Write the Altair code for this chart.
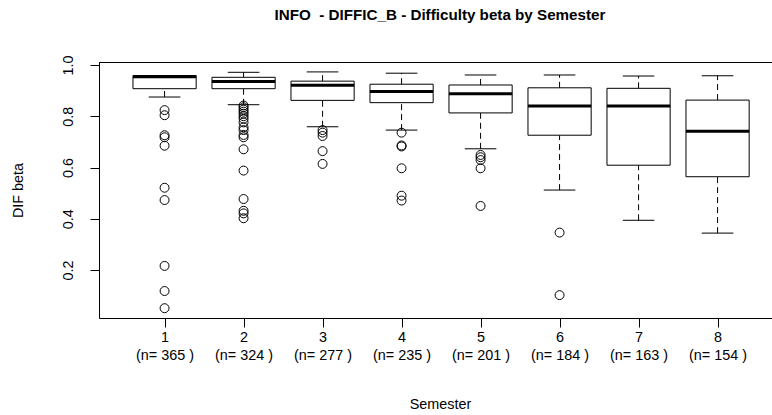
import altair as alt
import pandas as pd

# Box summary per semester
semesters = [1, 2, 3, 4, 5, 6, 7, 8]
counts = [365, 324, 277, 235, 201, 184, 163, 154]
whisker_low = [0.875, 0.845, 0.759, 0.746, 0.673, 0.512, 0.394, 0.344]
q1 = [0.9075, 0.9075, 0.862, 0.853, 0.813, 0.726, 0.609, 0.564]
median = [0.954, 0.936, 0.921, 0.897, 0.888, 0.840, 0.840, 0.741]
q3 = [0.959, 0.952, 0.937, 0.925, 0.922, 0.911, 0.909, 0.863]
whisker_high = [0.959, 0.9715, 0.973, 0.968, 0.961, 0.961, 0.957, 0.958]

# Outlying items per semester
outliers_s1 = [0.824, 0.804, 0.726, 0.718, 0.685, 0.521, 0.473, 0.216, 0.118, 0.051]
outliers_s2 = [0.842, 0.835, 0.826, 0.818, 0.810, 0.800, 0.790, 0.776, 0.757,
               0.746, 0.727, 0.718, 0.671, 0.588, 0.477, 0.431, 0.421, 0.402]
outliers_s3 = [0.746, 0.736, 0.723, 0.664, 0.614]
outliers_s4 = [0.736, 0.686, 0.682, 0.597, 0.490, 0.471]
outliers_s5 = [0.649, 0.640, 0.629, 0.597, 0.450]
outliers_s6 = [0.346, 0.102]
outliers_s7 = []
outliers_s8 = []

y_ticks = [0.2, 0.4, 0.6, 0.8, 1.0]

boxes = pd.DataFrame({
    "semester": semesters, "lo": whisker_low, "q1": q1,
    "med": median, "q3": q3, "hi": whisker_high,
})
out_lists = [outliers_s1, outliers_s2, outliers_s3, outliers_s4,
             outliers_s5, outliers_s6, outliers_s7, outliers_s8]
outs = pd.DataFrame(
    [(s, v) for s, vals in zip(semesters, out_lists) for v in vals],
    columns=["semester", "value"],
)

FONT = "Liberation Sans"
W, H = 673, 256
x_scale = alt.Scale(domain=[0.17, 0.17 + W / 79.0], nice=False, zero=False)
y_scale = alt.Scale(domain=[0.0127, 1.0117], nice=False, zero=False)

n_labels = "[" + ", ".join("'(n= %d )'" % c for c in counts) + "]"
x_axis = alt.Axis(
    values=semesters,
    labelExpr="[format(datum.value, 'd'), %s[datum.value - 1]]" % n_labels,
    title="Semester", titleX=341, titleY=90, titleAlign="center",
    titleBaseline="alphabetic", titleFontWeight="normal", titleFontSize=14.4,
    labelFontSize=14.4, labelLineHeight=18, labelBaseline="top", labelPadding=3,
    tickSize=9, grid=False, labelFlush=False, labelOverlap=False,
)
y_axis = alt.Axis(
    values=y_ticks, format=".1f", title="DIF beta", titleX=-77, titleY=128,
    titleAngle=270, titleAlign="center", titleBaseline="alphabetic",
    titleFontWeight="normal", titleFontSize=14.4, labelFontSize=14.4,
    labelAngle=270, labelAlign="center", labelBaseline="alphabetic",
    labelPadding=18, tickSize=9, grid=False,
)

base = alt.Chart(boxes).transform_calculate(
    xl="datum.semester - 0.4", xr="datum.semester + 0.4",
    sl="datum.semester - 0.2", sr="datum.semester + 0.2",
)

# top edge of the plot frame
frame_top = alt.Chart(boxes).mark_rule(color="black", strokeWidth=1).encode(
    x=alt.value(0), x2=alt.value(W), y=alt.value(0.5))

dash = [6, 4]
whisk_lo = base.mark_rule(color="black", strokeWidth=1, strokeDash=dash).encode(
    x=alt.X("semester:Q", scale=x_scale, axis=x_axis),
    y=alt.Y("lo:Q", scale=y_scale, axis=y_axis), y2="q1:Q")
whisk_hi = base.mark_rule(color="black", strokeWidth=1, strokeDash=dash).encode(
    x=alt.X("semester:Q", scale=x_scale),
    y=alt.Y("q3:Q", scale=y_scale), y2="hi:Q")
staple_lo = base.mark_rule(color="black", strokeWidth=1).encode(
    x=alt.X("sl:Q", scale=x_scale), x2="sr:Q",
    y=alt.Y("lo:Q", scale=y_scale))
staple_hi = base.mark_rule(color="black", strokeWidth=1).encode(
    x=alt.X("sl:Q", scale=x_scale), x2="sr:Q",
    y=alt.Y("hi:Q", scale=y_scale))
box = base.mark_rect(fill="white", stroke="black", strokeWidth=1).encode(
    x=alt.X("xl:Q", scale=x_scale), x2="xr:Q",
    y=alt.Y("q1:Q", scale=y_scale), y2="q3:Q")
med = base.mark_rule(color="black", strokeWidth=3).encode(
    x=alt.X("xl:Q", scale=x_scale), x2="xr:Q",
    y=alt.Y("med:Q", scale=y_scale))
points = alt.Chart(outs).mark_point(
    shape="circle", filled=False, color="black", size=80, strokeWidth=1, opacity=1
).encode(
    x=alt.X("semester:Q", scale=x_scale),
    y=alt.Y("value:Q", scale=y_scale))

chart = alt.layer(
    whisk_lo, whisk_hi, staple_lo, staple_hi, box, med, points, frame_top
).properties(
    width=W, height=H,
    autosize=alt.AutoSizeParams(type="none"),
    padding={"left": 99, "top": 62, "right": 0, "bottom": 97},
    title=alt.TitleParams(
        "INFO \u00a0- DIFFIC_B - Difficulty beta by Semester",
        anchor="middle", dx=4.5, offset=20, baseline="alphabetic",
        fontSize=15.2, fontWeight="bold", font=FONT, color="black",
    ),
).configure_view(stroke=None).configure_axis(
    labelFont=FONT, titleFont=FONT, labelColor="black", titleColor="black",
    domainColor="black", tickColor="black", domainWidth=1, tickWidth=1,
)

chart.save("out.html", embed_options={"renderer": "svg", "actions": False})
